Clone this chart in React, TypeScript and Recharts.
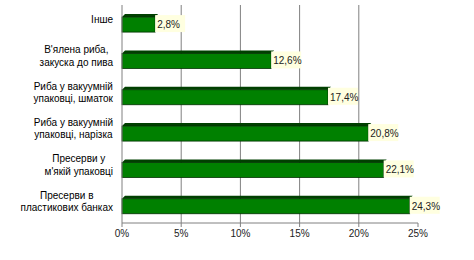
import React from "react";
import { BarChart, Bar, XAxis, YAxis, CartesianGrid, LabelList } from "recharts";

const categories = [
  "Інше",
  "В'ялена риба,\nзакуска до пива",
  "Риба у вакуумній\nупаковці, шматок",
  "Риба у вакуумній\nупаковці, нарізка",
  "Пресерви у\nм'якій упаковці",
  "Пресерви в\nпластикових банках",
];
const shares = [2.8, 12.6, 17.4, 20.8, 22.1, 24.3];
const xTicks = [0, 5, 10, 15, 20, 25];
const gridValues = [5, 10, 15, 20];

const data = categories.map((name, i) => ({ name, value: shares[i] }));

const FONT = "'Liberation Sans', Arial, sans-serif";

let ctx: CanvasRenderingContext2D | null = null;
function measure(s: string) {
  if (!ctx) ctx = document.createElement("canvas").getContext("2d");
  if (!ctx) return s.length * 5.5;
  ctx.font = `10px 'Liberation Sans'`;
  return ctx.measureText(s).width;
}

const fmt = (v: number) => v.toFixed(1).replace(".", ",") + "%";

// підписи категорій: рядки центровані між собою, блок притиснутий до осі
function CatTick({ x, y, payload }: any) {
  const lines = String(payload.value).split("\n");
  const w = Math.max(...lines.map(measure));
  const cx = x - 1 - w / 2;
  const lh = 12.5;
  const y0 = y - ((lines.length - 1) * lh) / 2;
  return (
    <text x={cx} y={y0} textAnchor="middle" fontSize={10} fontFamily={FONT} fill="#000" dy="0.35em">
      {lines.map((l, i) => (
        <tspan key={i} x={cx} dy={i === 0 ? 0 : lh}>{l}</tspan>
      ))}
    </text>
  );
}

function Bar3D({ x, y, width, height }: any) {
  const d = 3;
  return (
    <g>
      <polygon
        points={`${x},${y + d} ${x + d},${y} ${x + width + d},${y} ${x + width},${y + d}`}
        fill="#004000"
      />
      <rect x={x} y={y + d} width={width} height={height - d} fill="#008000" stroke="#003000" strokeWidth={0.8} />
    </g>
  );
}

function ValueLabel({ x, y, width, height, value }: any) {
  const bx = x + width;
  return (
    <g>
      <rect x={bx} y={y + 1} width={30} height={height - 1} fill="#ffffe0" />
      <text x={bx + 2} y={y + 3 + (height - 3) / 2} dy="0.35em" fontSize={10} fontFamily={FONT} fill="#222">
        {fmt(value)}
      </text>
    </g>
  );
}

export default function App() {
  return (
    <div style={{ width: 474, height: 260, background: "#fff" }}>
      <style>{`body{margin:0}`}</style>
      <BarChart
        width={474}
        height={260}
        data={data}
        layout="vertical"
        margin={{ top: 5, right: 56, bottom: 0, left: 0 }}
        barCategoryGap="25%"
      >
        <CartesianGrid horizontal={false} stroke="#808080" verticalValues={gridValues} />
        <XAxis
          type="number"
          domain={[0, 25]}
          ticks={xTicks}
          tickFormatter={(v) => `${v}%`}
          tick={{ fontSize: 10, fontFamily: FONT, fill: "#222" }}
          stroke="#808080"
          tickSize={4}
          tickMargin={3}
          height={37}
          interval={0}
        />
        <YAxis
          type="category"
          dataKey="name"
          width={122}
          tick={<CatTick />}
          stroke="#808080"
          tickLine={false}
          interval={0}
        />
        <Bar dataKey="value" shape={<Bar3D />} isAnimationActive={false}>
          <LabelList dataKey="value" content={<ValueLabel />} />
        </Bar>
      </BarChart>
    </div>
  );
}
